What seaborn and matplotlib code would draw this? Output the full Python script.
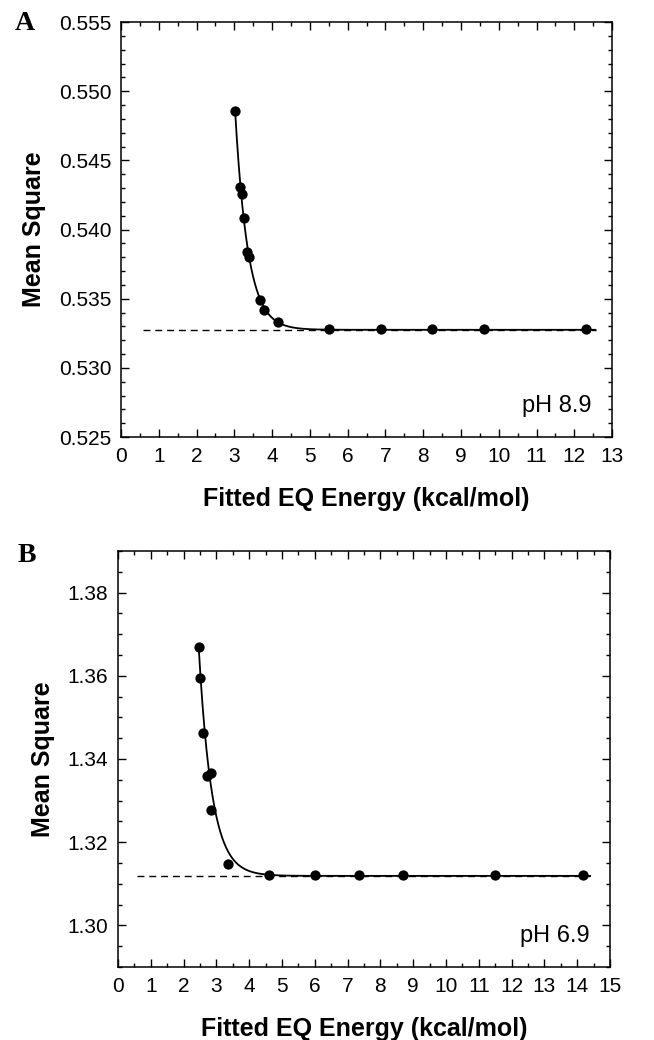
import numpy as np
import pandas as pd
import matplotlib
matplotlib.use("Agg")
import matplotlib.pyplot as plt
from matplotlib.ticker import MultipleLocator, FormatStrFormatter
import seaborn as sns

# ---------------- data ----------------
# Panel A (pH 8.9)
energy_a = [3.02, 3.16, 3.21, 3.25, 3.34, 3.38, 3.67, 3.78, 4.16, 5.51, 6.87, 8.23, 9.60, 12.32]
msq_a = [0.5486, 0.5431, 0.5426, 0.5408, 0.5384, 0.5380, 0.5349, 0.5342, 0.5333,
         0.5328, 0.5328, 0.5328, 0.5328, 0.5328]
plateau_a = 0.53275
fit_a = {"x_start": 3.02, "y_start": 0.5486, "rate": 2.97, "x_end": 12.56}
dash_a = (0.58, 12.56)
label_a = "pH 8.9"
xticks_a = list(range(0, 14))
yticks_a = [0.525, 0.530, 0.535, 0.540, 0.545, 0.550, 0.555]

# Panel B (pH 6.9)
energy_b = [2.46, 2.50, 2.59, 2.70, 2.83, 2.83, 3.35, 4.61, 6.02, 7.34, 8.70, 11.50, 14.17]
msq_b = [1.3670, 1.3594, 1.3463, 1.3358, 1.3366, 1.3277, 1.3148,
         1.3121, 1.3120, 1.3121, 1.3120, 1.3122, 1.3120]
plateau_b = 1.3119
fit_b = {"x_start": 2.46, "y_start": 1.3670, "rate": 2.5, "x_end": 14.4}
dash_b = (0.57, 14.4)
label_b = "pH 6.9"
xticks_b = list(range(0, 16))
yticks_b = [1.30, 1.32, 1.34, 1.36, 1.38]

# ---------------- style ----------------
sns.set_theme(style="ticks")
plt.rcParams["font.family"] = ["Liberation Sans", "DejaVu Sans"]
plt.rcParams["axes.linewidth"] = 1.1
for key in ["text.color", "axes.labelcolor", "xtick.color", "ytick.color",
            "xtick.labelcolor", "ytick.labelcolor"]:
    plt.rcParams[key] = "black"

fig = plt.figure(figsize=(6.54, 10.40), dpi=100)
axA = fig.add_axes([0.185, 0.5798, 0.751, 0.399])
axB = fig.add_axes([0.1804, 0.0702, 0.7523, 0.400])


def draw(ax, xs, ys, plateau, fit, dash, label, xlim, ylim, xticks, yticks,
         ymin_step, yfmt):
    # dashed plateau
    dash_df = pd.DataFrame({"x": list(dash), "y": [plateau, plateau]})
    sns.lineplot(data=dash_df, x="x", y="y", ax=ax, color="black",
                 linewidth=1.0, linestyle=(0, (5, 3.5)), estimator=None, sort=False)
    # fitted curve
    xc = np.linspace(fit["x_start"], fit["x_end"], 400)
    yc = plateau + (fit["y_start"] - plateau) * np.exp(-fit["rate"] * (xc - fit["x_start"]))
    curve_df = pd.DataFrame({"x": xc, "y": yc})
    sns.lineplot(data=curve_df, x="x", y="y", ax=ax, color="black",
                 linewidth=1.3, estimator=None, sort=False)
    # data points
    pts = pd.DataFrame({"x": xs, "y": ys})
    sns.scatterplot(data=pts, x="x", y="y", ax=ax, color="black", s=55,
                    edgecolor="black", linewidth=0, zorder=5)

    ax.set_xlim(*xlim)
    ax.set_ylim(*ylim)
    ax.set_xticks(xticks)
    ax.set_yticks(yticks)
    ax.xaxis.set_minor_locator(MultipleLocator(0.5))
    ax.yaxis.set_minor_locator(MultipleLocator(ymin_step))
    ax.yaxis.set_major_formatter(FormatStrFormatter(yfmt))
    ax.tick_params(which="both", direction="in", top=True, right=True,
                   colors="black", width=1.0)
    ax.tick_params(which="major", length=6, labelsize=15, pad=7)
    ax.tick_params(which="minor", length=3.2)
    for sp in ax.spines.values():
        sp.set_visible(True)
        sp.set_color("black")
        sp.set_linewidth(1.1)
    ax.set_xlabel("Fitted EQ Energy (kcal/mol)", fontsize=18, fontweight="bold",
                  labelpad=15, color="black")
    ax.set_ylabel("Mean Square", fontsize=18, fontweight="bold", labelpad=9,
                  color="black")
    ax.text(0.958, 0.074, label, transform=ax.transAxes, ha="right", va="center",
            fontsize=17, color="black")


draw(axA, energy_a, msq_a, plateau_a, fit_a, dash_a, label_a,
     (0, 13), (0.525, 0.555), xticks_a, yticks_a, 0.001, "%.3f")
draw(axB, energy_b, msq_b, plateau_b, fit_b, dash_b, label_b,
     (0, 15), (1.29, 1.39), xticks_b, yticks_b, 0.005, "%.2f")

fig.text(25 / 654, 1 - 24 / 1040, "A", family=["Liberation Serif", "DejaVu Serif"],
         fontweight="bold", fontsize=20, ha="center", va="center", color="black")
fig.text(27 / 654, 1 - 556 / 1040, "B", family=["Liberation Serif", "DejaVu Serif"],
         fontweight="bold", fontsize=20, ha="center", va="center", color="black")

fig.savefig("out.png", dpi=100, facecolor="white")
